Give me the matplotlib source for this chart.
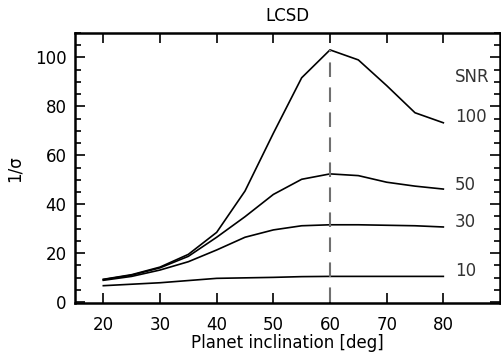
import matplotlib
matplotlib.use("Agg")
import matplotlib.pyplot as plt
from matplotlib.ticker import MultipleLocator

plt.rcParams['font.family'] = ['DejaVu Sans']

inclination = [20, 25, 30, 35, 40, 45, 50, 55, 60, 65, 70, 75, 80]
snr100 = [9.3, 11.2, 14.3, 19.5, 28.5, 45.4, 69.0, 91.7, 103.1, 99.0, 88.5, 77.4, 73.3]
snr50 = [9.2, 11.0, 14.0, 18.7, 26.5, 34.9, 44.0, 50.2, 52.4, 51.7, 49.0, 47.4, 46.2]
snr30 = [8.9, 10.5, 13.1, 16.5, 21.3, 26.5, 29.5, 31.2, 31.6, 31.6, 31.4, 31.2, 30.7]
snr10 = [6.7, 7.3, 7.9, 8.8, 9.7, 9.9, 10.1, 10.4, 10.5, 10.5, 10.5, 10.5, 10.5]
series = [snr100, snr50, snr30, snr10]
label_names = ["100", "50", "30", "10"]
label_y = [75.8, 48.0, 32.8, 12.8]
peak_x = 60
peak_y = 103.1

fig = plt.figure(figsize=(5.01, 3.53), dpi=100)
ax = fig.add_axes([0.1497, 0.1408, 0.8483, 0.7657])

for s in series:
    ax.plot(inclination, s, color='black', lw=1.2)

ax.plot([peak_x, peak_x], [0, peak_y], color='#707070', lw=1.5, dashes=(7, 5))

for name, yv in zip(label_names, label_y):
    ax.text(82, yv, name, ha='left', va='center', fontsize=12, color='#333333')
ax.text(82, 92, "SNR", ha='left', va='center', fontsize=12, color='#333333')

ax.set_xlim(15, 90)
ax.set_ylim(-0.5, 110)
ax.yaxis.set_major_locator(MultipleLocator(20))
ax.yaxis.set_minor_locator(MultipleLocator(5))
ax.set_xticks([20, 30, 40, 50, 60, 70, 80])
ax.tick_params(which='both', direction='in', top=True, right=True, labelsize=12, width=1.2)
ax.tick_params(which='major', length=7)
ax.tick_params(axis='x', which='major', pad=9)
ax.tick_params(axis='y', which='major', pad=6)
ax.tick_params(which='minor', length=4)
for sp in ax.spines.values():
    sp.set_linewidth(1.8)

ax.set_title("LCSD", fontsize=12, pad=9)
ax.set_xlabel("Planet inclination [deg]", fontsize=12, labelpad=0)
ax.set_ylabel("1/σ", fontsize=12, labelpad=8)

fig.savefig("out.png", dpi=100)
